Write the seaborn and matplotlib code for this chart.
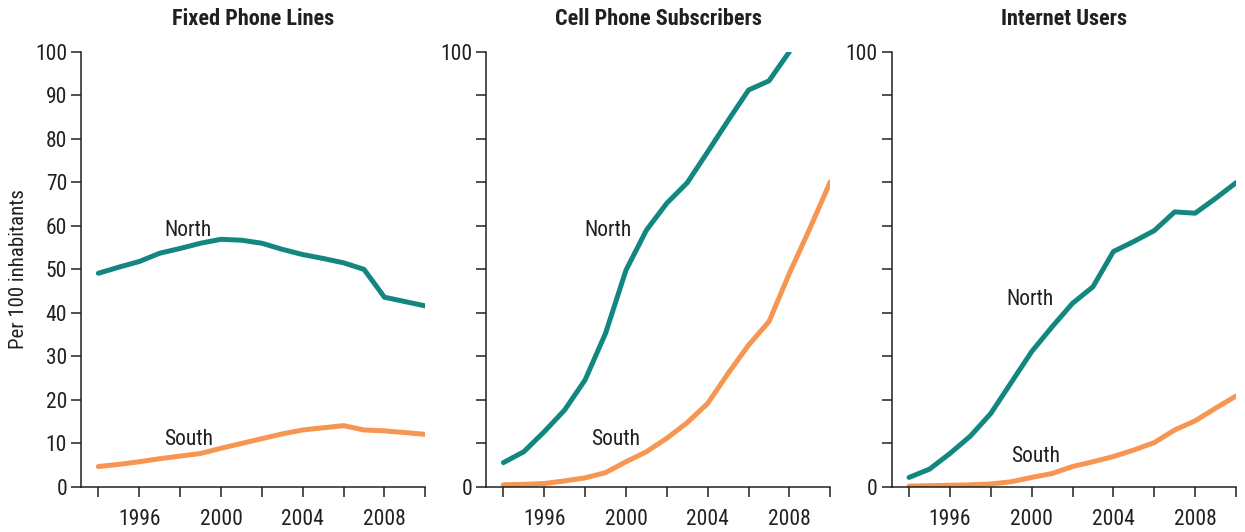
import numpy as np
import pandas as pd
import matplotlib
matplotlib.use("Agg")
import matplotlib.pyplot as plt
import seaborn as sns

years = list(range(1994, 2011))

fixed_north = [49.1, 50.5, 51.8, 53.7, 54.8, 56.0, 56.9, 56.7, 56.0, 54.6, 53.4, 52.5, 51.5, 50.0, 43.6, 42.6, 41.6]
fixed_south = [4.7, 5.2, 5.8, 6.5, 7.1, 7.7, 8.9, 10.0, 11.1, 12.2, 13.1, 13.6, 14.1, 13.1, 12.9, 12.5, 12.1]

cell_north = [5.6, 8.1, 12.7, 17.7, 24.6, 35.3, 49.8, 59.0, 65.2, 69.9, 77.0, 84.2, 91.2, 93.3, 100.0, np.nan, np.nan]
cell_south = [0.5, 0.6, 0.8, 1.4, 2.1, 3.3, 5.8, 8.1, 11.2, 14.8, 19.2, 26.1, 32.6, 38.0, 49.1, 59.4, 70.1]

web_north = [2.2, 4.1, 7.7, 11.7, 16.9, 24.0, 31.1, 36.8, 42.2, 46.0, 54.1, 56.4, 58.9, 63.2, 62.9, 66.3, 69.9]
web_south = [0.2, 0.3, 0.4, 0.5, 0.7, 1.2, 2.2, 3.1, 4.7, 5.8, 7.0, 8.5, 10.2, 13.1, 15.2, 18.1, 20.9]

titles = ["Fixed Phone Lines", "Cell Phone Subscribers", "Internet Users"]
label_pos = [
    [(1998.4, 59), (1998.4, 11)],
    [(1999.1, 59), (1999.5, 11)],
    [(1999.9, 43), (2000.2, 7)],
]

teal = "#13877f"
orange = "#f79552"
ink = "#231f20"

sns.set_style("ticks")
plt.rcParams["font.family"] = ["Roboto Condensed", "DejaVu Sans"]

fig = plt.figure(figsize=(12.45, 5.32), dpi=100)
lefts = [81 / 1245, 486 / 1245, 891.7 / 1245]
series = [(fixed_north, fixed_south), (cell_north, cell_south), (web_north, web_south)]

for i in range(3):
    ax = fig.add_axes([lefts[i], 45 / 532, 344.3 / 1245, 435.3 / 532])
    north, south = series[i]
    df = pd.DataFrame({"year": years, "North": north, "South": south})
    sns.lineplot(data=df, x="year", y="North", color=teal, linewidth=3.6, ax=ax)
    sns.lineplot(data=df, x="year", y="South", color=orange, linewidth=3.6, ax=ax)
    for (x, y), name in zip(label_pos[i], ["North", "South"]):
        ax.text(x, y, name, ha="center", va="center", fontsize=15.5, color=ink)
    ax.set_xlim(1993.15, 2010)
    ax.set_ylim(0, 100)
    ax.set_xticks(range(1994, 2011, 2))
    ax.set_xticklabels(["" if y % 4 else str(y) for y in range(1994, 2011, 2)])
    ax.set_yticks(range(0, 101, 10))
    if i == 0:
        ax.set_yticklabels([str(v) for v in range(0, 101, 10)])
        ax.set_ylabel("Per 100 inhabitants", fontsize=15, color=ink, labelpad=5)
    else:
        ax.set_yticklabels(["0"] + [""] * 9 + ["100"])
        ax.set_ylabel("")
    ax.set_xlabel("")
    ax.set_title(titles[i], fontsize=16, fontweight="bold", color=ink, pad=19)
    sns.despine(ax=ax)
    for s in ["left", "bottom"]:
        ax.spines[s].set_color(ink)
        ax.spines[s].set_linewidth(1.1)
    ax.tick_params(axis="both", direction="out", length=7, width=1.1, color=ink,
                   labelsize=15.5, labelcolor=ink, bottom=True, left=True)
    ax.tick_params(axis="x", pad=9)
    ax.tick_params(axis="y", pad=3)

fig.savefig("out.png", dpi=100)
